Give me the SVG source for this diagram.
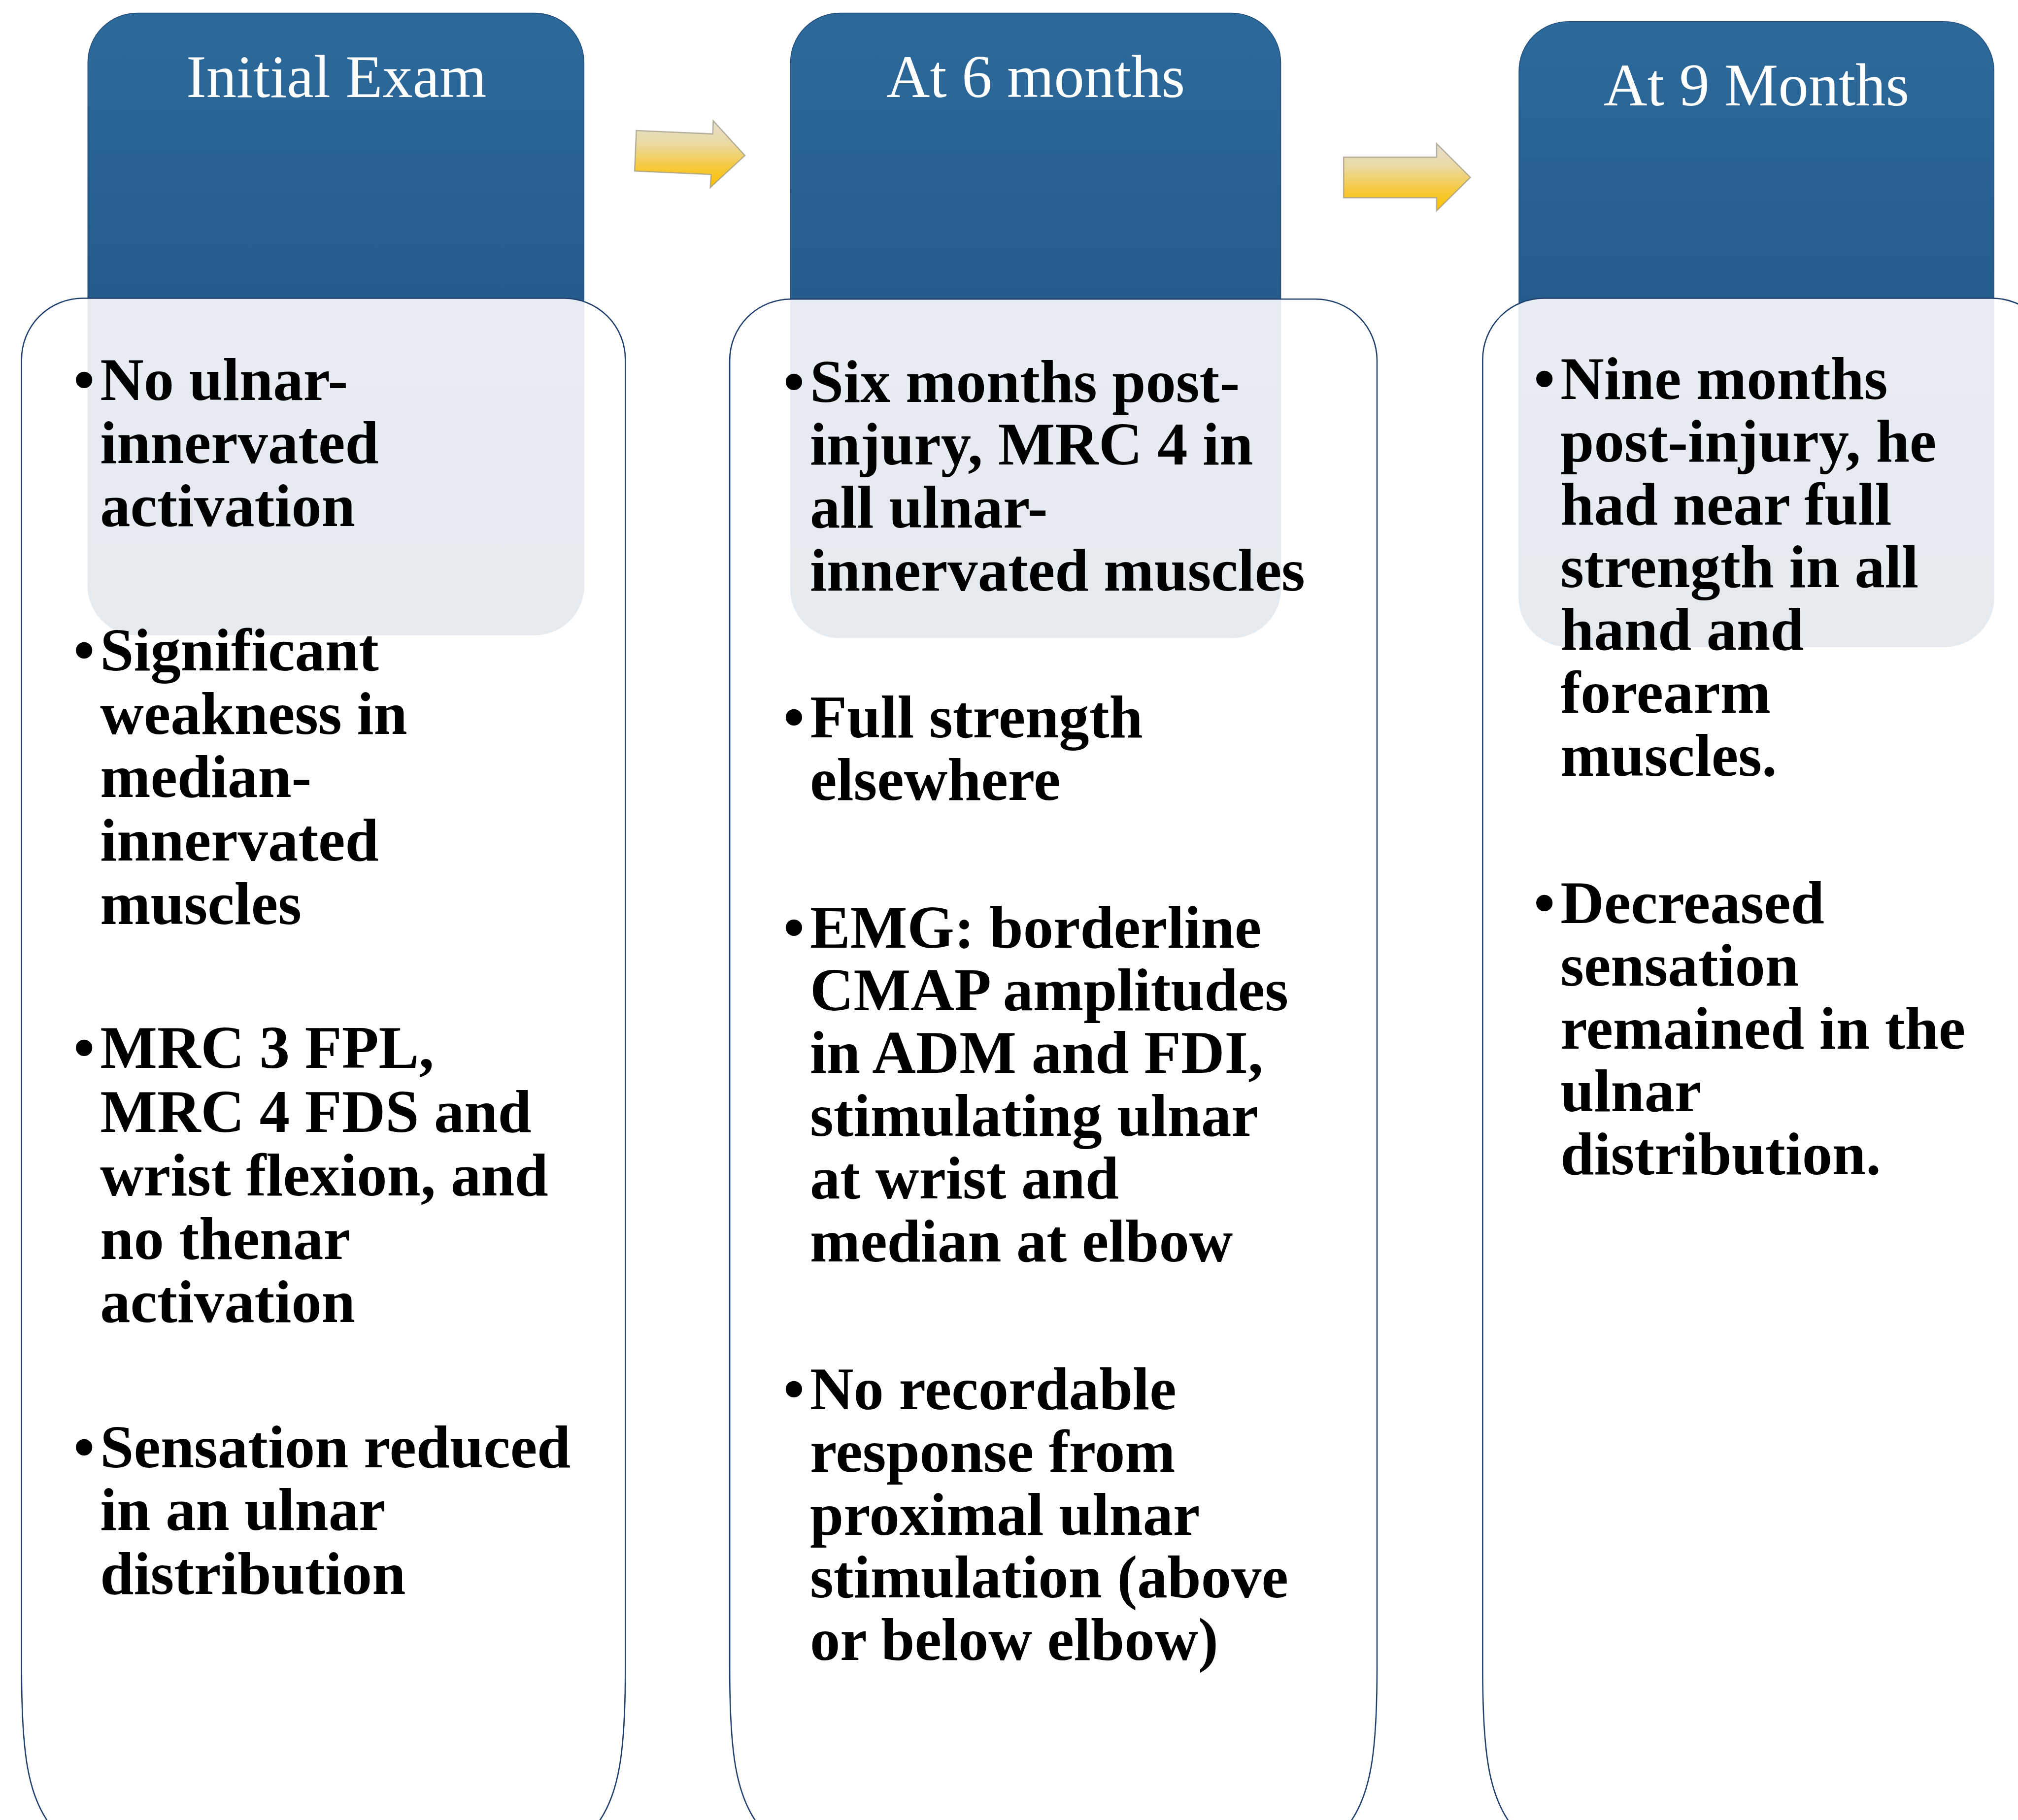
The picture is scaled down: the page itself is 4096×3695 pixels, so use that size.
<svg xmlns="http://www.w3.org/2000/svg" width="4096" height="3695" viewBox="0 0 4096 3695">
<defs>
<linearGradient id="hdrGrad" x1="0" y1="0" x2="0" y2="1">
<stop offset="0" stop-color="#2C6A9C"/>
<stop offset="0.5" stop-color="#255A89"/>
<stop offset="1" stop-color="#1C4670"/>
</linearGradient>
<linearGradient id="arrGrad" x1="0" y1="0" x2="0" y2="1">
<stop offset="0" stop-color="#E3E0D2"/>
<stop offset="0.35" stop-color="#EAD9A0"/>
<stop offset="0.7" stop-color="#F6C93A"/>
<stop offset="1" stop-color="#FFC000"/>
</linearGradient>
<style>
.hdr{fill:url(#hdrGrad);stroke:#24507E;stroke-width:2}
.body{fill:#FFFFFF;fill-opacity:0.885;stroke:#1F3F6E;stroke-width:3}
.htxt{font-family:"Liberation Serif","Times New Roman",serif;font-size:143px;fill:#FFFFFF;text-anchor:middle}
.btxt{font-family:"Liberation Serif","Times New Roman",serif;font-size:143px;font-weight:bold;fill:#000000}
.bul{font-family:"Liberation Serif","Times New Roman",serif;font-size:143px;font-weight:bold;fill:#000000;text-anchor:middle}
.arrow{fill:url(#arrGrad);stroke:#A09A85;stroke-width:3;stroke-opacity:0.75;stroke-linejoin:miter}
</style>
</defs>
<rect x="0" y="0" width="4096" height="3695" fill="#FFFFFF"/>
<g transform="scale(0.85762)">

<g id="node-initial-exam">
<rect class="hdr" x="208" y="31" width="1174" height="1472" rx="117" ry="117"/>
<path class="body" d="M51,3950 V851 A145,145 0 0 1 196,706 H1335 A145,145 0 0 1 1480,851 V3950 C1480,4150 1465,4250 1412,4320 H119 C66,4250 51,4150 51,3950 Z"/>
<text class="htxt" x="796" y="230">Initial Exam</text>
<text class="bul" x="199" y="947">•</text>
<text class="btxt" x="237" y="947">No ulnar-</text>
<text class="btxt" x="237" y="1096">innervated</text>
<text class="btxt" x="237" y="1245">activation</text>
<text class="bul" x="199" y="1587">•</text>
<text class="btxt" x="237" y="1587">Significant</text>
<text class="btxt" x="237" y="1737">weakness in</text>
<text class="btxt" x="237" y="1887">median-</text>
<text class="btxt" x="237" y="2037">innervated</text>
<text class="btxt" x="237" y="2187">muscles</text>
<text class="bul" x="199" y="2528">•</text>
<text class="btxt" x="237" y="2528">MRC 3 FPL,</text>
<text class="btxt" x="237" y="2679">MRC 4 FDS and</text>
<text class="btxt" x="237" y="2830">wrist flexion, and</text>
<text class="btxt" x="237" y="2980">no thenar</text>
<text class="btxt" x="237" y="3130">activation</text>
<text class="bul" x="199" y="3473">•</text>
<text class="btxt" x="237" y="3473">Sensation reduced</text>
<text class="btxt" x="237" y="3622">in an ulnar</text>
<text class="btxt" x="237" y="3773">distribution</text>
</g>

<g id="node-6-months">
<rect class="hdr" x="1871" y="31" width="1160" height="1479" rx="117" ry="117"/>
<path class="body" d="M1727,3950 V853 A145,145 0 0 1 1872,708 H3114 A145,145 0 0 1 3259,853 V3950 C3259,4150 3244,4250 3191,4320 H1795 C1742,4250 1727,4150 1727,3950 Z"/>
<text class="htxt" x="2451" y="230">At 6 months</text>
<text class="bul" x="1879" y="951">•</text>
<text class="btxt" x="1917" y="951">Six months post-</text>
<text class="btxt" x="1917" y="1099">injury, MRC 4 in</text>
<text class="btxt" x="1917" y="1249">all ulnar-</text>
<text class="btxt" x="1917" y="1398">innervated muscles</text>
<text class="bul" x="1879" y="1745">•</text>
<text class="btxt" x="1917" y="1745">Full strength</text>
<text class="btxt" x="1917" y="1894">elsewhere</text>
<text class="bul" x="1879" y="2243">•</text>
<text class="btxt" x="1917" y="2243">EMG: borderline</text>
<text class="btxt" x="1917" y="2391">CMAP amplitudes</text>
<text class="btxt" x="1917" y="2540">in ADM and FDI,</text>
<text class="btxt" x="1917" y="2689">stimulating ulnar</text>
<text class="btxt" x="1917" y="2837">at wrist and</text>
<text class="btxt" x="1917" y="2986">median at elbow</text>
<text class="bul" x="1879" y="3336">•</text>
<text class="btxt" x="1917" y="3336">No recordable</text>
<text class="btxt" x="1917" y="3484">response from</text>
<text class="btxt" x="1917" y="3633">proximal ulnar</text>
<text class="btxt" x="1917" y="3781">stimulation (above</text>
<text class="btxt" x="1917" y="3930">or below elbow)</text>
</g>

<g id="node-9-months">
<rect class="hdr" x="3595" y="51" width="1124" height="1480" rx="117" ry="117"/>
<path class="body" d="M3509,3950 V851 A145,145 0 0 1 3654,706 H4715 A145,145 0 0 1 4860,851 V3950 C4860,4150 4845,4250 4792,4320 H3577 C3524,4250 3509,4150 3509,3950 Z"/>
<text class="htxt" x="4157" y="250">At 9 Months</text>
<text class="bul" x="3655" y="944">•</text>
<text class="btxt" x="3693" y="944">Nine months</text>
<text class="btxt" x="3693" y="1092">post-injury, he</text>
<text class="btxt" x="3693" y="1242">had near full</text>
<text class="btxt" x="3693" y="1390">strength in all</text>
<text class="btxt" x="3693" y="1538">hand and</text>
<text class="btxt" x="3693" y="1687">forearm</text>
<text class="btxt" x="3693" y="1837">muscles.</text>
<text class="bul" x="3655" y="2185">•</text>
<text class="btxt" x="3693" y="2185">Decreased</text>
<text class="btxt" x="3693" y="2333">sensation</text>
<text class="btxt" x="3693" y="2483">remained in the</text>
<text class="btxt" x="3693" y="2631">ulnar</text>
<text class="btxt" x="3693" y="2780">distribution.</text>
</g>

<g id="connectors">
<polygon class="arrow" points="1506,309 1687,317 1688,286 1763,368 1681,444 1683,413 1502,405"/>
<polygon class="arrow" points="3180,372 3400,372 3400,340 3480,420 3400,499 3400,468 3180,468"/>
</g>

</g>
</svg>
